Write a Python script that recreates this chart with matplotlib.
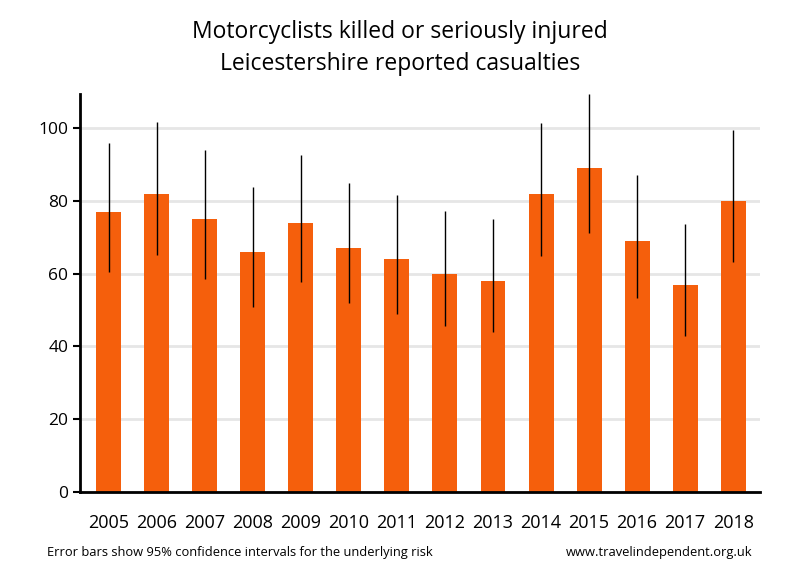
import numpy as np
import matplotlib.pyplot as plt

# Data
years = ['2005', '2006', '2007', '2008', '2009', '2010', '2011',
         '2012', '2013', '2014', '2015', '2016', '2017', '2018']
casualties = [77, 82, 75, 66, 74, 67, 64, 60, 58, 82, 89, 69, 57, 80]
ci_low = [60.4, 65.1, 58.5, 50.8, 57.7, 51.9, 48.9, 45.6, 44.0, 64.9, 71.2, 53.3, 42.9, 63.3]
ci_high = [95.9, 101.7, 94.0, 83.8, 92.6, 84.9, 81.6, 77.2, 75.0, 101.6, 109.4, 87.1, 73.6, 99.5]

plt.rcParams['font.family'] = ['Open Sans', 'DejaVu Sans']

fig = plt.figure(figsize=(8, 5.8), dpi=100)
ax = fig.add_axes([0.1, 0.152, 0.85, 0.686])

x = np.arange(len(years))
ax.bar(x, casualties, width=0.52, color='#F55F0C', zorder=2)
ax.vlines(x, ci_low, ci_high, color='black', linewidth=1, zorder=3)

ax.set_xlim(-0.6, len(years) - 1 + 0.56)
ax.set_ylim(0, 109.5)
ax.set_yticks([0, 20, 40, 60, 80, 100])
ax.yaxis.grid(True, color='#E6E6E6', linewidth=2, zorder=0)
ax.set_axisbelow(True)

ax.set_xticks(x)
ax.set_xticklabels(years, fontsize=13)
ax.tick_params(axis='x', length=0, pad=16)
ax.tick_params(axis='y', labelsize=12.5, length=5, width=1.5)

for side in ['top', 'right']:
    ax.spines[side].set_visible(False)
ax.spines['left'].set_linewidth(2)
ax.spines['bottom'].set_linewidth(2)

fig.text(0.5, 0.945, 'Motorcyclists killed or seriously injured', ha='center',
         va='center', fontsize=16.5)
fig.text(0.5, 0.89, 'Leicestershire reported casualties', ha='center',
         va='center', fontsize=16.5)
fig.text(0.059, 0.047, 'Error bars show 95% confidence intervals for the underlying risk',
         ha='left', va='center', fontsize=9.3)
fig.text(0.94, 0.047, 'www.travelindependent.org.uk', ha='right',
         va='center', fontsize=9.3)

fig.savefig('out.png', dpi=100)
plt.close()
